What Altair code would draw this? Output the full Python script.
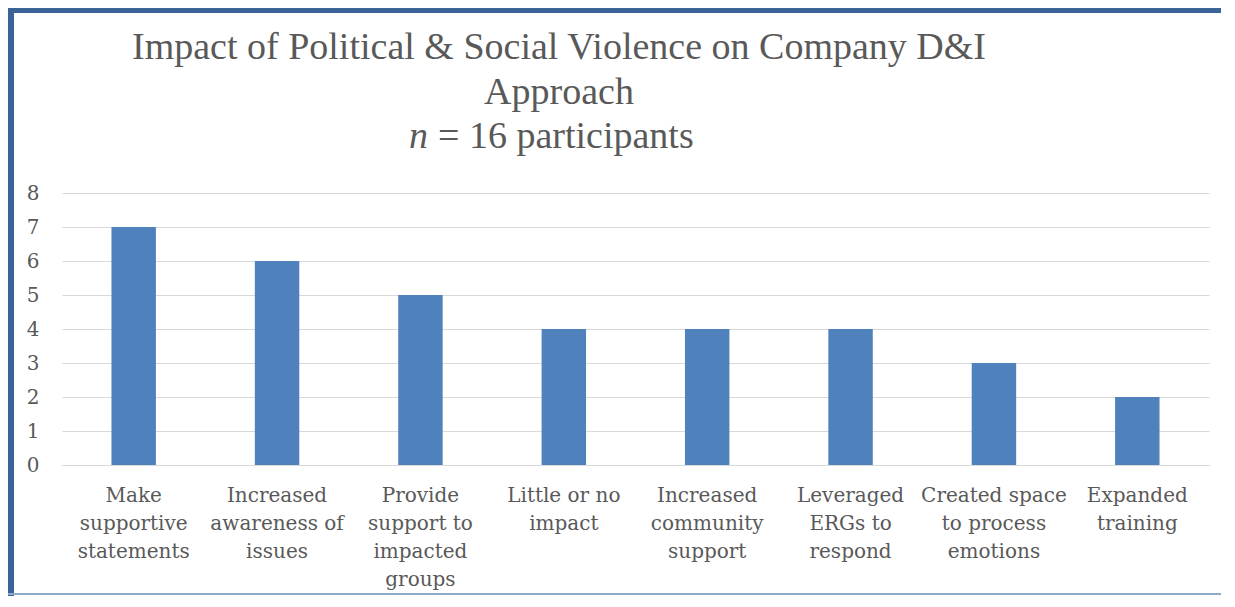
import altair as alt
import pandas as pd

categories = [
    "Make\nsupportive\nstatements",
    "Increased\nawareness of\nissues",
    "Provide\nsupport to\nimpacted\ngroups",
    "Little or no\nimpact",
    "Increased\ncommunity\nsupport",
    "Leveraged\nERGs to\nrespond",
    "Created space\nto process\nemotions",
    "Expanded\ntraining",
]
counts = [7, 6, 5, 4, 4, 4, 3, 2]
y_ticks = [0, 1, 2, 3, 4, 5, 6, 7, 8]
title_lines = ["Impact of Political & Social Violence on Company D&I", "Approach"]
title_n = "n"
title_rest = "= 16 participants"

FONT = "DejaVu Serif"
TFONT = "Liberation Serif"
TXT = "#595959"
BAR = "#4f81bd"
GRID = "#d9d9d9"
FRAME = "#3a6496"

df = pd.DataFrame({"category": categories, "count": counts})
one = alt.Data(values=[{"k": 1}])

bars = alt.Chart(df).mark_bar(color=BAR).encode(
    x=alt.X(
        "category:N",
        sort=None,
        scale=alt.Scale(paddingInner=0.69, paddingOuter=0.345),
        axis=alt.Axis(
            title=None,
            labelExpr="split(datum.value, '\\n')",
            labelAngle=0,
            labelFont=FONT,
            labelFontSize=20,
            labelColor=TXT,
            labelLineHeight=28,
            labelBaseline="top",
            labelPadding=20,
            labelLimit=300,
            ticks=False,
            domainColor=GRID,
            domainWidth=1,
            grid=False,
        ),
    ),
    y=alt.Y(
        "count:Q",
        scale=alt.Scale(domain=[0, 8], nice=False),
        axis=alt.Axis(
            title=None,
            values=y_ticks,
            labelFont=FONT,
            labelFontSize=20,
            labelColor=TXT,
            labelPadding=23,
            ticks=False,
            domain=False,
            gridColor=GRID,
            gridWidth=1,
        ),
    ),
)

def txt(text, x, y, align="center", italic=False):
    kw = dict(font=TFONT, fontSize=38, color=TXT, align=align, baseline="alphabetic")
    if italic:
        kw["fontStyle"] = "italic"
    return alt.Chart(one).mark_text(**kw).encode(
        x=alt.value(x), y=alt.value(y), text=alt.value(text)
    )

t1 = txt(title_lines[0], 497, -134)
t2 = txt(title_lines[1], 497, -89)
t3a = txt(title_n, 366, -45, align="right", italic=True)
t3b = txt(title_rest, 376, -45, align="left")

left_frame = alt.Chart(one).mark_rule(color=FRAME, strokeWidth=8).encode(
    x=alt.value(-52), x2=alt.value(-52), y=alt.value(-185), y2=alt.value(403)
)
top_frame = alt.Chart(one).mark_rule(color=FRAME, strokeWidth=8).encode(
    x=alt.value(-54), x2=alt.value(1159), y=alt.value(-184), y2=alt.value(-184)
)
bottom_frame = alt.Chart(one).mark_rule(color="#8eaacb", strokeWidth=2).encode(
    x=alt.value(-54), x2=alt.value(1159), y=alt.value(401), y2=alt.value(401)
)

chart = alt.layer(bars, t1, t2, t3a, t3b, left_frame, top_frame, bottom_frame).properties(
    width=1147,
    height=272,
    autosize=alt.AutoSizeParams(type="none"),
    padding={"left": 54, "top": 185, "right": 12, "bottom": 131},
    background="white",
).configure_view(stroke="transparent")

chart.save("out.html", embed_options={"renderer": "svg", "actions": False})
